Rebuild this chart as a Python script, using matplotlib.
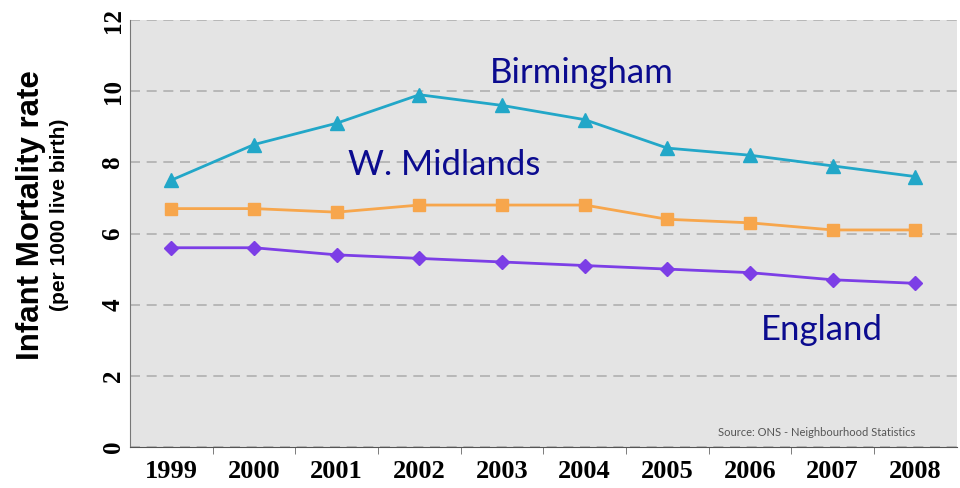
#!/usr/bin/env python

import matplotlib
matplotlib.use("Agg")
import matplotlib.pyplot as plt

years = ["1999", "2000", "2001", "2002", "2003", "2004",
         "2005", "2006", "2007", "2008"]
birmingham = [7.5, 8.5, 9.1, 9.9, 9.6, 9.2, 8.4, 8.2, 7.9, 7.6]
w_midlands = [6.7, 6.7, 6.6, 6.8, 6.8, 6.8, 6.4, 6.3, 6.1, 6.1]
england = [5.6, 5.6, 5.4, 5.3, 5.2, 5.1, 5.0, 4.9, 4.7, 4.6]
y_ticks = [0, 2, 4, 6, 8, 10, 12]


def main() -> int:
    fig = plt.figure(figsize=(9.6, 4.88), dpi=100)
    ax = fig.add_axes([0.1355, 0.084, 0.861, 0.875])
    ax.set_facecolor("#e4e4e4")

    x = range(len(years))
    ax.plot(x, birmingham, color="#22a7c8", lw=2, marker="^", ms=10, zorder=3)
    ax.plot(x, w_midlands, color="#f7a64c", lw=2, marker="s", ms=9, zorder=3)
    ax.plot(x, england, color="#7c3ee6", lw=2, marker="D", ms=7, zorder=3)

    # series labels placed on the chart
    lab = dict(color="#0b0b8f", fontsize=25, family="Lato", ha="center", va="center")
    ax.text(4.96, 10.5, "Birmingham", **lab)
    ax.text(3.3, 7.92, "W. Midlands", **lab)
    ax.text(7.87, 3.3, "England", **lab)

    ax.text(9.0, 0.42, "Source: ONS - Neighbourhood Statistics", fontsize=8,
            color="#555555", ha="right", va="center", family="Lato")

    ax.set_xlim(-0.5, len(years) - 0.5)
    ax.set_ylim(0, 12)
    ax.set_yticks(y_ticks)
    ax.set_yticklabels([str(t) for t in y_ticks], rotation=90, va="center",
                       family="Liberation Serif", fontweight="bold", fontsize=18)
    ax.set_xticks(list(x))
    ax.set_xticklabels(years, family="Liberation Serif", fontweight="bold",
                       fontsize=19)
    ax.set_xticks([i + 0.5 for i in range(len(years) - 1)], minor=True)
    ax.tick_params(axis="x", which="major", length=0, pad=9)
    ax.tick_params(axis="x", which="minor", length=5, color="#666666")
    ax.tick_params(axis="y", length=0, pad=4)

    ax.grid(axis="y", color="#b0b0b0", ls=(0, (6, 4)), lw=1.2)
    ax.set_axisbelow(True)
    for side in ("top", "right"):
        ax.spines[side].set_visible(False)
    ax.spines["left"].set_color("#777777")
    ax.spines["bottom"].set_color("#555555")

    fig.text(0.032, 0.56, "Infant Mortality rate", rotation=90, ha="center",
             va="center", fontsize=22.5, fontweight="bold",
             family=["Liberation Sans", "DejaVu Sans"])
    fig.text(0.062, 0.56, "(per 1000 live birth)", rotation=90, ha="center",
             va="center", fontsize=15, fontweight="bold",
             family=["Liberation Sans", "DejaVu Sans"])

    fig.savefig("out.png", dpi=100)
    return 0


if __name__ == "__main__":
    main()
